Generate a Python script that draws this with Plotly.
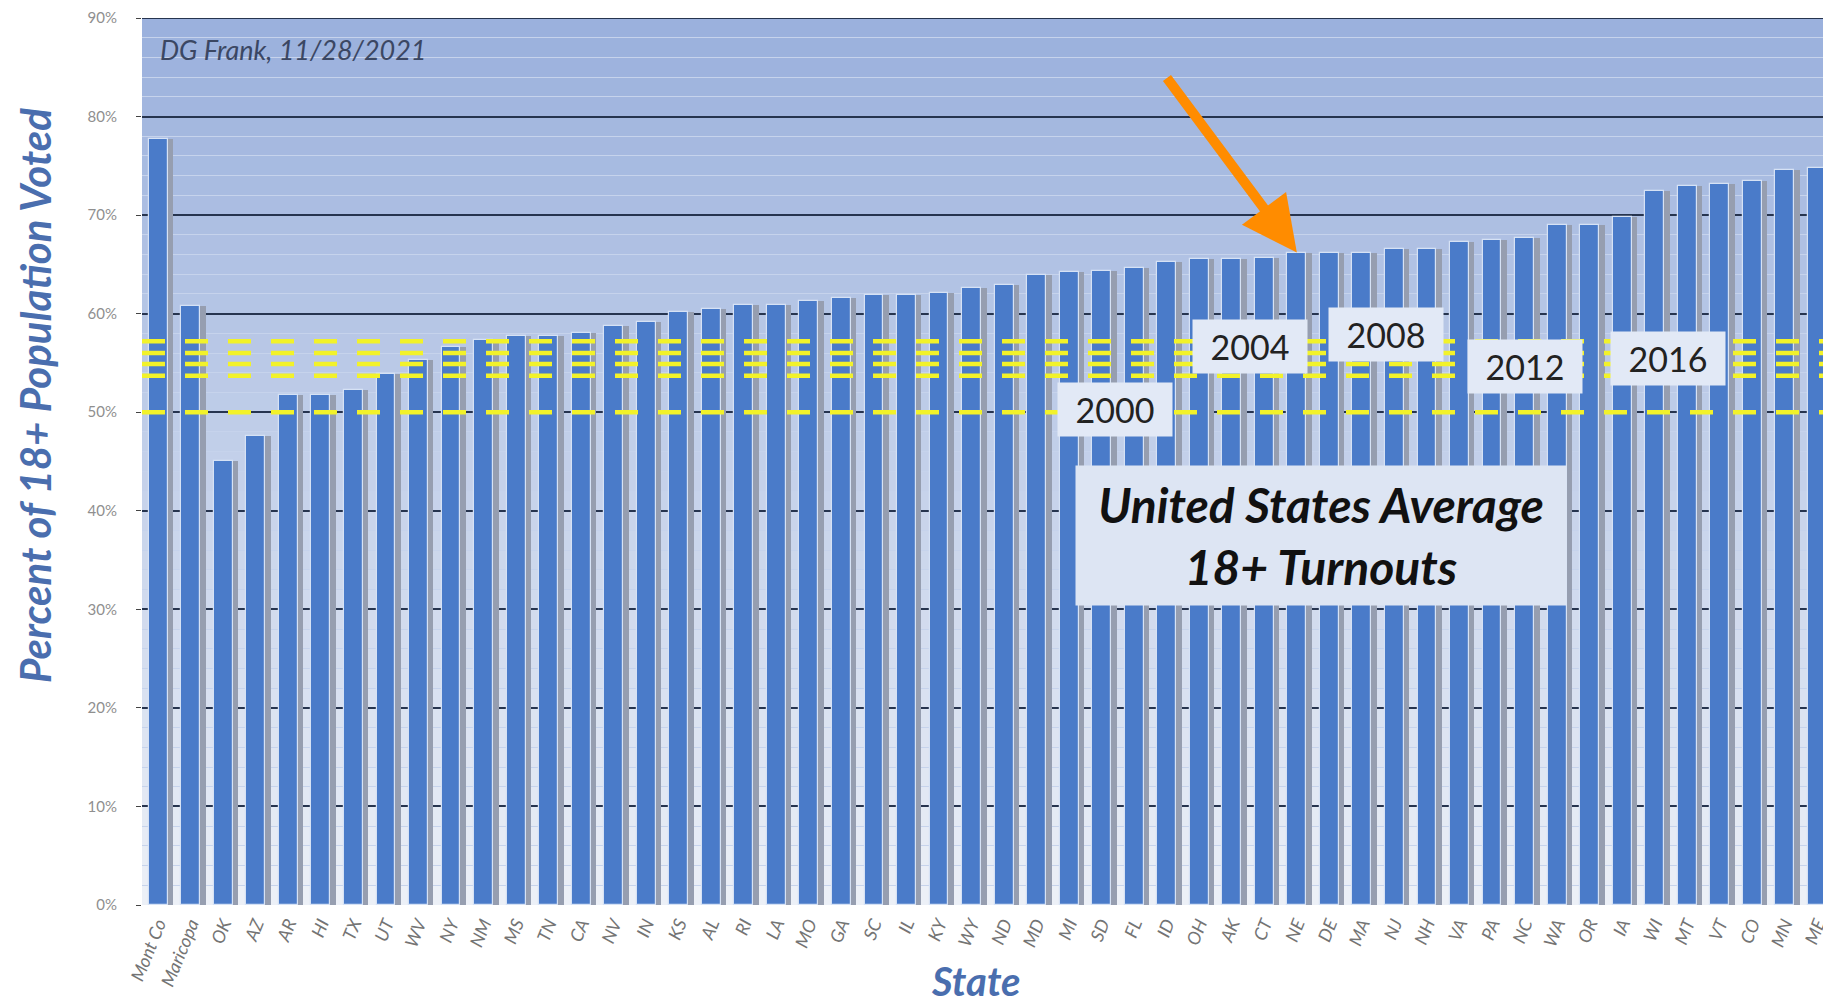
import plotly.graph_objects as go

# 18+ turnout by state (2020)
states = ["Mont Co", "Maricopa", "OK", "AZ", "AR", "HI", "TX", "UT", "WV", "NY",
          "NM", "MS", "TN", "CA", "NV", "IN", "KS", "AL", "RI", "LA",
          "MO", "GA", "SC", "IL", "KY", "WY", "ND", "MD", "MI", "SD",
          "FL", "ID", "OH", "AK", "CT", "NE", "DE", "MA", "NJ", "NH",
          "VA", "PA", "NC", "WA", "OR", "IA", "WI", "MT", "VT", "CO",
          "MN", "ME"]
turnout = [77.7, 60.8, 45.1, 47.6, 51.7, 51.7, 52.3, 53.9, 55.3, 56.6,
           57.3, 57.7, 57.7, 58.0, 58.7, 59.2, 60.2, 60.5, 60.9, 60.9,
           61.3, 61.6, 61.9, 61.9, 62.1, 62.6, 62.9, 63.9, 64.2, 64.3,
           64.6, 65.2, 65.5, 65.5, 65.6, 66.2, 66.2, 66.2, 66.6, 66.6,
           67.3, 67.5, 67.7, 69.0, 69.0, 69.8, 72.4, 73.0, 73.2, 73.5,
           74.6, 74.8]

# US average 18+ turnouts (yellow dashed lines)
years = ["2000", "2004", "2008", "2012", "2016"]
us_avg = [50.0, 56.0, 57.2, 53.7, 54.9]

x = list(range(len(states)))

fig = go.Figure()

# grey shadow to the right of each bar
fig.add_trace(go.Bar(x=x, y=turnout, width=0.17, offset=0.29,
                     marker=dict(color="#969eb0", line=dict(width=0)),
                     hoverinfo="skip", showlegend=False))
fig.add_trace(go.Bar(x=x, y=turnout, width=0.58, offset=-0.29,
                     marker=dict(color="#4a7bc9", line=dict(color="#d6e2f5", width=1.2)),
                     showlegend=False))

# gradient background of plot area, drawn as thin bands
shapes = []
top = (155, 177, 221)
bot = (236, 240, 247)
n = 45
for i in range(n):
    t = i / (n - 1)
    c = tuple(int(top[k] + (bot[k] - top[k]) * t) for k in range(3))
    shapes.append(dict(type="rect", xref="paper", x0=0, x1=1, yref="y",
                       y0=90 - i * 2, y1=90 - (i + 1) * 2,
                       fillcolor="rgb(%d,%d,%d)" % c, line=dict(width=0), layer="below"))
# dark line on top of plot area
shapes.append(dict(type="line", xref="paper", x0=0, x1=1, yref="y", y0=90, y1=90,
                   line=dict(color="#26344f", width=2), layer="above"))

# yellow dashed average lines
for v in us_avg:
    shapes.append(dict(type="line", xref="paper", x0=0, x1=1, yref="y", y0=v, y1=v,
                       line=dict(color="#f2f22a", width=4.5, dash="23px,20px"), layer="above"))
fig.update_layout(shapes=shapes)

# year label boxes
label_pos = {"2000": (29.4, 50.3), "2004": (33.55, 56.7), "2008": (37.75, 57.9),
             "2012": (42.0, 54.6), "2016": (46.4, 55.5)}
for yr, v in zip(years, us_avg):
    lx, ly = label_pos[yr]
    fig.add_annotation(x=lx, y=ly, text=yr, showarrow=False,
                       font=dict(family="Lato", size=34, color="#222222"),
                       bgcolor="#e2e9f6", width=114, height=53, borderpad=0)

fig.add_annotation(x=35.74, y=37.5, text="<b><i>United States Average<br>18+ Turnouts</i></b>",
                   showarrow=False, font=dict(family="Lato", size=48, color="#111111"),
                   bgcolor="#dde5f3", width=488, height=137)

fig.add_annotation(xref="paper", yref="y", x=0.0095, y=86.8, xanchor="left",
                   text="<i>DG Frank, 11/28/2021</i>", showarrow=False,
                   font=dict(family="Lato", size=27, color="#3b4763"))

# orange arrow pointing at NE
ne = states.index("NE")
fig.add_annotation(x=ne, y=turnout[ne], ax=-131, ay=-176, showarrow=True,
                   arrowcolor="#ff8c00", arrowwidth=10, arrowhead=2, arrowsize=1.1,
                   standoff=0, text="")

# axis titles
fig.add_annotation(xref="paper", yref="paper", x=-0.0634, y=0.575,
                   xanchor="center", yanchor="middle",
                   text="<b><i>Percent of 18+ Population Voted</i></b>", textangle=-90,
                   showarrow=False, font=dict(family="Lato", size=42, color="#4a6eae"))
fig.add_annotation(xref="paper", yref="paper", x=0.494, y=-0.086,
                   xanchor="center", yanchor="middle",
                   text="<b><i>State</i></b>", showarrow=False,
                   font=dict(family="Lato", size=40, color="#4a6eae"))

fig.update_xaxes(range=[-0.5, 51.42], tickmode="array", tickvals=x, ticktext=states,
                 tickangle=-68, tickfont=dict(family="Lato", size=18, color="#747474", style="italic"),
                 showgrid=False, zeroline=False, ticks="", ticklabelstandoff=4,
                 ticklabeloverflow="allow", automargin=False)
fig.update_yaxes(range=[0, 90], dtick=10, ticksuffix="%",
                 tickfont=dict(family="Lato", size=15, color="#8f8f8f"),
                 showgrid=True, gridcolor="#26344f", gridwidth=2, zeroline=False,
                 minor=dict(dtick=2, showgrid=True, gridcolor="#c6d3ec", gridwidth=1),
                 ticks="outside", ticklen=5, tickcolor="#444444", ticklabelstandoff=16,
                 ticklabeloverflow="allow", automargin=False)

# the page body adds an 8px offset, so the figure is 8px smaller than the window
fig.update_layout(width=1823, height=996, barmode="overlay", bargap=0,
                  margin=dict(l=134, r=0, t=10, b=99),
                  paper_bgcolor="white", plot_bgcolor="#c6d3ec",
                  font=dict(family="Lato"))

fig.write_html("out.html")
